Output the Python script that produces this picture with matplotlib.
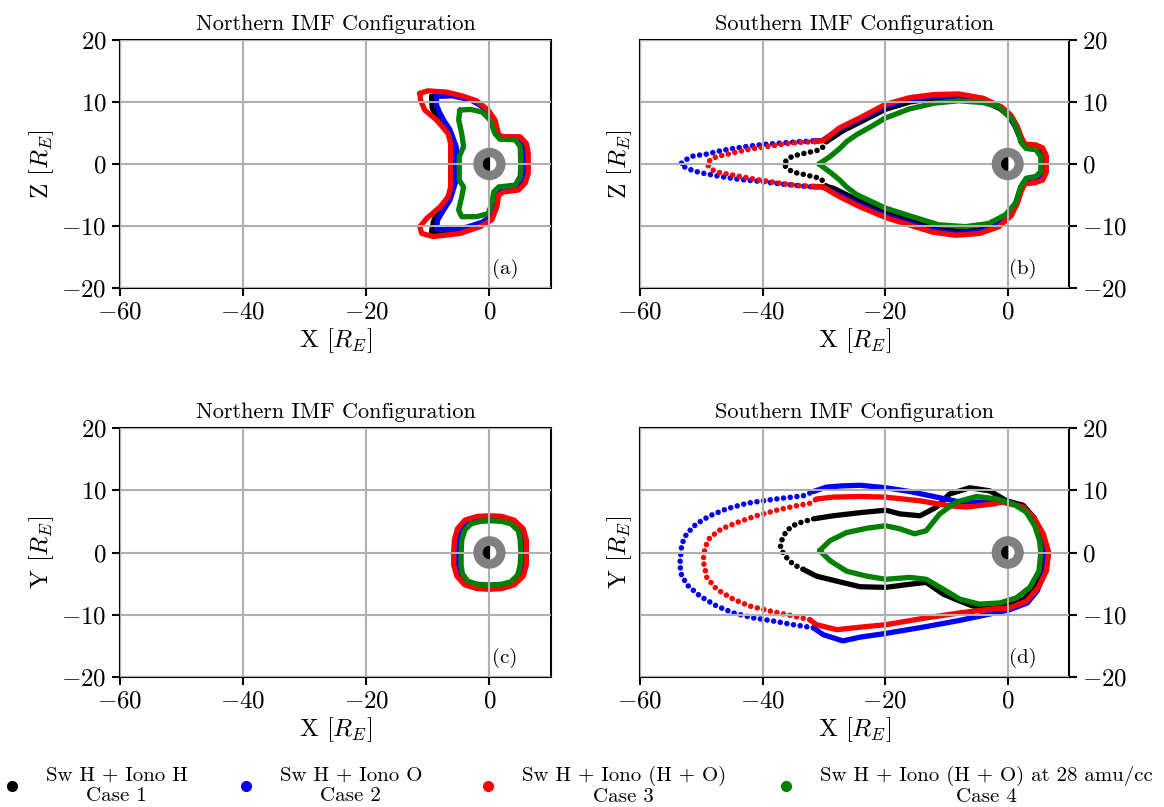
import numpy as np
import matplotlib
matplotlib.use("Agg")
import matplotlib.pyplot as plt
from matplotlib.patches import Circle, Wedge
from matplotlib.lines import Line2D

plt.rcParams['font.family'] = 'serif'
plt.rcParams['font.serif'] = ['cmr10']
plt.rcParams['mathtext.fontset'] = 'cm'
plt.rcParams['axes.formatter.use_mathtext'] = True
plt.rcParams['axes.unicode_minus'] = True

colors = ['black', 'blue', 'red', 'green']
labels = ['Sw H + Iono H\nCase 1', 'Sw H + Iono O\nCase 2',
          'Sw H + Iono (H + O)\nCase 3', 'Sw H + Iono (H + O) at 28 amu/cc\nCase 4']

# ---- panel (a): northern IMF, X-Z plane ----
a_case1 = [(-9.4, 10.9), (-8, 11.2), (-5, 11), (-2.5, 10.2), (-0.5, 8.8), (0.7, 7), (1.3, 4.6), (2.2, 4.2),
           (4.9, 4.2), (5.8, 3.2), (6.1, 1.6), (6.1, -1.5), (5.6, -3), (4.6, -4), (2.2, -4.3), (1.3, -4.9),
           (1.0, -6.8), (0.2, -8.8), (-1.6, -9.9), (-4.8, -11.0), (-8, -11.3), (-9.4, -10.9), (-9.1, -9.3),
           (-8.5, -8), (-7.2, -6.3), (-5.9, -3.7), (-5.6, -2), (-5.6, 0), (-5.6, 2), (-5.9, 3.9), (-7.2, 6),
           (-8.4, 7.5), (-9.3, 9), (-9.4, 10.9)]
a_case2 = [(-8.6, 10.9), (-6, 11), (-3, 10.3), (-1, 9.2), (0.3, 7.5), (1.0, 5), (1.8, 4.1), (4.7, 4.0),
           (5.6, 3.1), (5.9, 1.6), (5.9, -1.5), (5.4, -2.9), (4.4, -3.9), (1.8, -4.1), (1.1, -4.8), (0.8, -6.6),
           (0, -8.6), (-1.2, -9.4), (-3.7, -10.2), (-6.5, -10.6), (-8.6, -10.4), (-8.4, -9), (-7.5, -7.5),
           (-6.4, -5.8), (-5.4, -2.6), (-5.3, 0), (-5.4, 2.8), (-6.4, 5.5), (-7.4, 7), (-8.1, 8.3),
           (-8.6, 9.5), (-8.6, 10.9)]
a_case3 = [(-11.3, 11.4), (-10, 11.8), (-7, 11.6), (-4.5, 11.0), (-2.1, 10.2), (-0.2, 8.7), (0.9, 7.1),
           (1.5, 4.7), (2.3, 4.4), (5.0, 4.4), (6.0, 3.3), (6.3, 1.7), (6.3, -1.5), (5.8, -3.1), (4.7, -4.2),
           (2.3, -4.5), (1.5, -5.0), (1.2, -6.9), (0.4, -9.0), (-1.5, -10.1), (-4.8, -11.2), (-9.1, -11.7),
           (-11.0, -11.2), (-11.3, -10.1), (-10.2, -8.8), (-8.0, -6.9), (-6.7, -5.3), (-6.3, -3.7), (-6.3, 0),
           (-6.3, 3.3), (-6.7, 4.9), (-8.6, 7.1), (-10.5, 8.7), (-11.2, 10.3), (-11.3, 11.4)]
a_case4 = [(-4.8, 8.7), (-3.1, 8.8), (-1.2, 8.4), (0.1, 7.1), (0.9, 4.9), (1.7, 4.0), (4.2, 3.9), (5.0, 2.8),
           (5.1, 0), (5.0, -2.0), (4.2, -3.4), (1.5, -3.7), (0.7, -4.5), (0.4, -6.3), (-0.2, -8.0),
           (-2.1, -8.5), (-4.5, -8.5), (-5.0, -7.4), (-4.5, -5.3), (-4.2, -3.7), (-4.9, -2.6), (-4.9, 1.2),
           (-4.2, 2.8), (-4.5, 4.9), (-5.0, 7.1), (-4.8, 8.7)]

# ---- panel (b): southern IMF, X-Z plane ----
b_case1 = [(-29.6, 3.6), (-28.5, 4.3), (-27, 5.3), (-24, 6.8), (-20, 8.8), (-16, 10.0), (-12, 10.6), (-8, 10.7),
           (-4, 10.2), (-1.2, 8.9), (0.3, 7.6), (1.3, 5.9), (2.0, 4.2), (2.6, 3.0), (4.4, 2.9), (5.5, 2.4),
           (6.0, 1.2), (6.0, 0), (6.0, -1.2), (5.5, -2.4), (4.4, -2.9), (2.6, -3.0), (2.0, -4.2), (1.4, -6.1),
           (0.4, -8.0), (-1.5, -9.6), (-4.6, -10.6), (-8.4, -10.8), (-12.2, -10.3), (-16.5, -9.0), (-20, -7.8),
           (-24, -6.1), (-27, -4.6), (-28.5, -3.9), (-29.6, -3.6)]
b_case1_tail = [(-29.6, 3.6), (-30.1, 2.8), (-30.6, 2.3), (-32.8, 1.8), (-35.0, 1.3), (-35.9, 0.8), (-36.6, 0),
                (-35.9, -0.8), (-35.0, -1.3), (-32.8, -1.8), (-30.6, -2.3), (-30.1, -2.8), (-29.6, -3.6)]
b_case2 = [(-31.8, 3.7), (-30.2, 3.8), (-29.2, 4.5), (-27.5, 5.6), (-24, 7.3), (-20, 9.3), (-16, 10.4), (-12, 10.9),
           (-8, 11.0), (-4, 10.4), (-1.2, 9.0), (0.3, 7.7), (1.3, 6.0), (2.0, 4.3), (2.6, 3.1), (4.4, 3.0),
           (5.5, 2.5), (6.1, 1.2), (6.1, 0), (6.1, -1.2), (5.5, -2.5), (4.4, -2.9), (2.6, -3.1), (2.0, -4.3),
           (1.4, -6.2), (0.4, -8.1), (-1.5, -9.8), (-4.6, -10.9), (-8.4, -11.2), (-12.2, -10.7), (-16.5, -9.4),
           (-20, -8.3), (-24.1, -6.6), (-27.4, -5.0), (-29.2, -4.2), (-30.2, -3.7), (-31.8, -3.7)]
b_case2_tail = [(-31.8, 3.7), (-34.0, 3.6), (-36.7, 3.4), (-39.4, 3.2), (-42.1, 2.9), (-44.8, 2.5), (-47.0, 2.1),
                (-49.1, 1.6), (-51.3, 1.3), (-52.4, 0.75), (-53.4, 0), (-52.4, -0.7), (-50.2, -1.4), (-47.0, -2.0),
                (-43.7, -2.5), (-40.4, -2.8), (-37.2, -3.2), (-34.0, -3.5), (-31.8, -3.7)]
b_case3 = [(-31.5, 3.6), (-30.0, 3.8), (-29.0, 4.6), (-27.5, 5.8), (-24.0, 7.5), (-20.0, 9.6), (-16.0, 10.7),
           (-12.0, 11.2), (-8.0, 11.3), (-4.0, 10.6), (-1.0, 9.2), (0.5, 7.9), (1.5, 6.2), (2.2, 4.4), (2.8, 3.2),
           (4.5, 3.1), (5.7, 2.6), (6.3, 1.3), (6.3, 0), (6.3, -1.3), (5.7, -2.6), (4.5, -3.0), (2.8, -3.2),
           (2.2, -4.4), (1.6, -6.3), (0.6, -8.3), (-1.4, -10.1), (-4.6, -11.2), (-8.4, -11.5), (-12.2, -11.0),
           (-16.5, -9.7), (-20.0, -8.6), (-24.1, -6.9), (-27.4, -5.3), (-29.0, -4.4), (-30.0, -3.7), (-31.5, -3.6)]
b_case3_tail = [(-31.5, 3.6), (-34.0, 3.5), (-36.7, 3.2), (-39.4, 2.8), (-42.1, 2.4), (-44.8, 1.8), (-47.0, 1.3),
                (-48.3, 0.9), (-49.1, 0), (-48.3, -0.9), (-47.0, -1.4), (-43.7, -2.0), (-40.4, -2.6),
                (-37.2, -3.1), (-34.0, -3.5), (-31.5, -3.6)]
b_case4 = [(-30.8, 0), (-29, 1.2), (-27.4, 2.5), (-26.3, 3.6), (-24.7, 4.7), (-22, 6.2), (-20, 7.4), (-16, 8.9),
           (-12, 9.8), (-8, 10.2), (-4, 9.9), (-1.4, 9.2), (0.8, 7.1), (1.8, 4.9), (2.1, 3.6), (3, 2.5), (4.6, 2.3),
           (5.4, 1.2), (5.4, 0), (5.4, -1.2), (4.6, -2.0), (3.0, -2.3), (2.1, -3.7), (1.3, -6.3), (-0.4, -8.2),
           (-3.1, -9.6), (-6.9, -10.1), (-11.3, -9.8), (-16.5, -8.2), (-20, -7.1), (-24.7, -4.9), (-26.3, -3.7),
           (-27.4, -2.6), (-29, -1.3), (-30.8, 0)]

# ---- panel (c): northern IMF, X-Y plane ----
c_case1 = [(-5.2, 0), (-5.1, 2), (-4.6, 3.7), (-3.5, 4.9), (-1.8, 5.4), (0, 5.5), (2, 5.4), (3.8, 4.9),
           (5.0, 3.7), (5.5, 2), (5.6, 0), (5.5, -2), (5.0, -3.7), (3.8, -4.9), (2, -5.4), (0, -5.5),
           (-2, -5.4), (-3.8, -4.9), (-4.9, -3.7), (-5.2, -2), (-5.2, 0)]
c_case2 = [(-5.3, 0), (-5.2, 2), (-4.7, 3.7), (-3.6, 5.0), (-1.8, 5.4), (0, 5.5), (2, 5.4), (3.8, 4.9),
           (5.0, 3.7), (5.5, 2), (5.6, 0), (5.5, -2), (5.0, -3.7), (3.8, -4.9), (2, -5.4), (0, -5.6),
           (-2, -5.5), (-3.9, -5.0), (-5.0, -3.8), (-5.4, -2), (-5.3, 0)]
c_case3 = [(-5.8, 0), (-5.7, 2), (-5.2, 3.8), (-4, 5.2), (-2, 5.8), (0, 5.9), (2, 5.8), (4, 5.2), (5.5, 3.8),
           (6, 2), (6, 0), (6, -2), (5.5, -3.8), (4, -5.2), (2, -5.8), (0, -5.9), (-2, -5.8), (-4, -5.2),
           (-5.3, -3.8), (-5.8, -2), (-5.8, 0)]
c_case4 = [(-4.6, 0), (-4.5, 2), (-4, 3.6), (-3, 4.6), (-1.5, 5), (0, 5.1), (2, 5), (3.5, 4.6), (4.7, 3.5),
           (5, 2), (5.1, 0), (5, -2), (4.6, -3.6), (3.5, -4.7), (2, -5.1), (0, -5.2), (-2, -5.1), (-3.5, -4.6),
           (-4.4, -3.4), (-4.6, -2), (-4.6, 0)]

# ---- panel (d): southern IMF, X-Y plane ----
d_case1 = [(-31.7, 5.4), (-28.5, 5.9), (-24.1, 6.4), (-19.9, 6.8), (-17.6, 6.2), (-14.3, 5.9), (-11.6, 7.3),
           (-9.5, 9.4), (-6.2, 10.4), (-2.9, 9.9), (-0.2, 8.3), (2.5, 7.6), (4.3, 5.6), (5.5, 3), (5.9, 0),
           (5.5, -3), (4.2, -5.9), (2.5, -7.6), (0.2, -8.1), (-2.4, -8.9), (-5.7, -8.6), (-7.8, -7.8),
           (-10.5, -6.7), (-13.3, -4.8), (-16, -5.1), (-19.9, -5.6), (-24.1, -5.5), (-27.9, -4.6),
           (-31.2, -3.8), (-33.4, -2.7)]
d_case1_tail = [(-33.4, -2.7), (-35, -1.9), (-36.4, -0.5), (-37.1, 0.8), (-36.9, 1.9), (-36.1, 3.5),
                (-34.5, 4.6), (-32.8, 5.1), (-31.7, 5.4)]
d_case2 = [(-31.7, 9.8), (-29.6, 10.5), (-27, 10.7), (-24.1, 10.8), (-19.9, 10.4), (-16, 9.8), (-11.6, 8.9),
           (-7.8, 8.1), (-3.5, 8.1), (-0.8, 8.1), (2, 7.5), (4.1, 5.6), (5.5, 3.0), (6.3, 0), (6.1, -3),
           (4.8, -6.2), (3.2, -8.1), (0.3, -9.2), (-3.5, -10.0), (-7.8, -10.9), (-13.3, -11.9), (-19.9, -13.0),
           (-24.1, -13.6), (-26.9, -14.2), (-30.1, -13.2), (-31.7, -12.1)]
d_case2_tail = [(-31.7, -12.1), (-35, -11.6), (-38.3, -11.0), (-41.5, -10.5), (-44.8, -9.7), (-47.5, -8.6),
                (-50.2, -7.0), (-52.1, -5.4), (-53.2, -3.8), (-53.5, -1.9), (-53.2, 1.3), (-52.4, 3.0),
                (-50.8, 4.6), (-48.6, 5.9), (-45.9, 7.0), (-42.6, 7.9), (-39.3, 8.4), (-36.1, 8.8),
                (-33.4, 9.1), (-31.7, 9.8)]
d_case3 = [(-31.2, 8.6), (-28.5, 8.9), (-24.1, 9.0), (-19.9, 8.9), (-14.3, 8.3), (-9.5, 7.5), (-6.7, 7.3),
           (-2.4, 7.8), (-0.8, 8.1), (2.5, 7.3), (4.4, 5.4), (5.8, 3.0), (6.7, 0), (6.3, -3.0), (5.0, -5.6),
           (3.1, -7.8), (0.3, -8.9), (-2.7, -9.1), (-7.8, -9.7), (-13.3, -10.5), (-19.9, -11.6), (-24.1, -12.0),
           (-27.9, -12.4), (-31.2, -11.6), (-32.3, -10.8)]
d_case3_tail = [(-32.3, -10.8), (-35, -10.2), (-38.8, -9.4), (-42.1, -8.6), (-44.8, -7.5), (-47.5, -5.9),
                (-49.1, -4.0), (-49.7, -1.3), (-49.4, 0.8), (-48.6, 2.4), (-46.7, 3.8), (-44.2, 4.8),
                (-41, 5.9), (-37.7, 6.8), (-34.5, 7.5), (-32.3, 7.9), (-31.2, 8.6)]
d_case4 = [(-30.7, 0.3), (-29, 1.9), (-26.3, 3.2), (-23, 3.9), (-19.9, 4.3), (-17.6, 3.8), (-15.2, 3.0),
           (-13.3, 3.5), (-11.1, 6.2), (-8.4, 8.1), (-5.1, 9.0), (-1.8, 8.6), (0.9, 7.8), (3.0, 6.5), (4.4, 4.3),
           (5.2, 1.9), (5.4, 0), (5.1, -3), (3.6, -5.6), (1.4, -7.3), (-1.3, -8.1), (-4.6, -8.3), (-7.8, -7.5),
           (-10.5, -5.9), (-13.3, -4.3), (-16, -4.0), (-19.9, -4.3), (-23, -3.8), (-26.3, -3.0), (-29, -1.3),
           (-30.7, 0.3)]

panels = [
    ('a', 'Northern IMF Configuration', r'Z $[R_E]$', [a_case1, a_case2, a_case3, a_case4], [None] * 4),
    ('b', 'Southern IMF Configuration', r'Z $[R_E]$', [b_case1, b_case2, b_case3, b_case4],
     [b_case1_tail, b_case2_tail, b_case3_tail, None]),
    ('c', 'Northern IMF Configuration', r'Y $[R_E]$', [c_case1, c_case2, c_case3, c_case4], [None] * 4),
    ('d', 'Southern IMF Configuration', r'Y $[R_E]$', [d_case1, d_case2, d_case3, d_case4],
     [d_case1_tail, d_case2_tail, d_case3_tail, None]),
]

W, H = 1164, 807
fig = plt.figure(figsize=(W / 100, H / 100), dpi=100)
boxes = {'a': (120, 40, 551, 288), 'b': (640, 40, 1069, 288),
         'c': (120, 428, 551, 677), 'd': (640, 428, 1069, 677)}

for key, title, ylab, cases, tails in panels:
    x0, y0, x1, y1 = boxes[key]
    ax = fig.add_axes([x0 / W, 1 - y1 / H, (x1 - x0) / W, (y1 - y0) / H])
    for col, pts, tail in zip(colors, cases, tails):
        xs, ys = zip(*pts)
        ax.plot(xs, ys, color=col, lw=3.8, solid_capstyle='round', solid_joinstyle='round')
        if tail is not None:
            tx, ty = zip(*tail)
            ax.plot(tx, ty, color=col, lw=4.0, linestyle=(0, (0.01, 1.2)), dash_capstyle='round')
    # Earth
    ax.add_patch(Circle((0, 0), 2.5, color='gray', zorder=5))
    ax.add_patch(Circle((0, 0), 1.0, color='white', zorder=6))
    ax.add_patch(Wedge((0, 0), 1.0, 90, 270, color='black', zorder=7))

    ax.set_xlim(-60, 10)
    ax.set_ylim(-20, 20)
    ax.set_xticks([-60, -40, -20, 0])
    ax.set_yticks([-20, -10, 0, 10, 20])
    ax.grid(True, color='#b0b0b0', lw=1.5)
    ax.set_axisbelow(False)
    ax.tick_params(labelsize=18, width=1.5, length=6)
    for s in ax.spines.values():
        s.set_linewidth(1.5)
    ax.set_xlabel(r'X $[R_E]$', fontsize=18, labelpad=2)
    ax.set_ylabel(ylab, fontsize=18)
    ax.set_title(title, fontsize=16, pad=7)
    if key in ('b', 'd'):
        ax.yaxis.tick_right()
        ax.yaxis.set_label_position('left')
    ax.text(0.893, 0.075, '(%s)' % key, transform=ax.transAxes, fontsize=15, ha='center', va='center')

# legend: one entry per case, placed along the bottom edge
leg_x = [6, 240, 482, 780]
for col, lab, lx in zip(colors, labels, leg_x):
    h = Line2D([], [], marker='o', ls='none', color=col, markersize=7)
    leg = fig.legend([h], [lab], loc='center left', bbox_to_anchor=(lx / W, 1 - 786 / H),
                     frameon=False, fontsize=15, handlelength=0.6, handletextpad=1.3,
                     borderpad=0, borderaxespad=0)
    for t in leg.get_texts():
        t.set_multialignment('center')

fig.savefig('out.png', dpi=100)
